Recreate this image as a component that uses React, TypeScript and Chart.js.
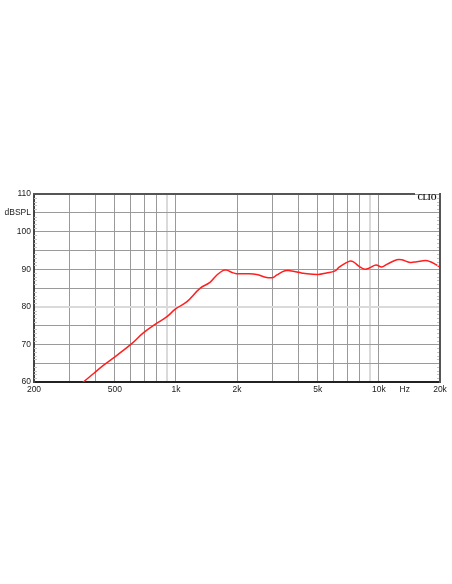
import React, { useEffect, useRef } from "react";
import { Chart, registerables } from "chart.js";

Chart.register(...registerables);

const freqs = [340, 350, 392, 439, 501, 606, 691, 803, 900, 1000, 1130, 1314, 1472, 1588, 1712, 1780, 1900, 1986, 2230, 2500, 2800, 3010, 3130, 3440, 3648, 4090, 4243, 5027, 5520, 6050, 6400, 7180, 7460, 8060, 8530, 9040, 9680, 10320, 10930, 12250, 12970, 14250, 15380, 16930, 17920, 19000, 20000];
const spl = [59.6, 60, 62.2, 64.4, 66.7, 70.2, 73.05, 75.6, 77.3, 79.5, 81.3, 84.9, 86.5, 88.4, 89.7, 89.75, 89.1, 88.8, 88.8, 88.6, 87.8, 87.8, 88.4, 89.6, 89.6, 89.1, 88.9, 88.6, 89.0, 89.5, 90.6, 92.15, 92.0, 90.6, 90.0, 90.4, 91.1, 90.6, 91.3, 92.5, 92.5, 91.8, 92.0, 92.3, 92.0, 91.3, 90.55];

const xTickValues = [200, 300, 400, 500, 600, 700, 800, 900, 1000, 2000, 3000, 4000, 5000, 6000, 7000, 8000, 9000, 10000, 13400, 20000];
const xTickLabels: Record<number, string> = { 200: "200", 500: "500", 1000: "1k", 2000: "2k", 5000: "5k", 10000: "10k", 13400: "Hz", 20000: "20k" };
const yTickValues = [60, 65, 70, 75, 80, 85, 90, 95, 100, 105, 110];
const yTickLabels: Record<number, string> = { 60: "60", 70: "70", 80: "80", 90: "90", 100: "100", 105: "dBSPL", 110: "110" };
const lightX = [900, 9000];
const lightY = [80];

const framePlugin = {
  id: "frame",
  afterDraw(chart: any) {
    const { ctx, chartArea } = chart;
    const { left, right, top, bottom } = chartArea;
    const ys = chart.scales.y;
    ctx.save();
    ctx.strokeStyle = "#c4c4c4";
    ctx.lineWidth = 1;
    for (let v = 61; v < 110; v++) {
      if (v % 5 === 0) continue;
      const py = Math.round(ys.getPixelForValue(v)) + 0.5;
      ctx.beginPath();
      ctx.moveTo(left, py);
      ctx.lineTo(left + 3, py);
      ctx.moveTo(right - 3, py);
      ctx.lineTo(right, py);
      ctx.stroke();
    }
    ctx.strokeStyle = "#555";
    ctx.lineWidth = 2;
    ctx.beginPath();
    ctx.moveTo(left - 1, top);
    ctx.lineTo(415, top);
    ctx.stroke();
    ctx.beginPath();
    ctx.moveTo(right, top - 1);
    ctx.lineTo(right, bottom + 1);
    ctx.stroke();
    ctx.fillStyle = "#111";
    ctx.font = "bold 7.5px 'Liberation Serif', serif";
    ctx.textAlign = "center";
    ctx.textBaseline = "middle";
    ctx.fillText("CLIO", 427, 198);
    ctx.restore();
  },
};

export default function App() {
  const ref = useRef<HTMLCanvasElement>(null);
  useEffect(() => {
    document.body.style.margin = "0";
    const chart = new Chart(ref.current!, {
      type: "line",
      data: {
        datasets: [
          {
            data: freqs.map((f, i) => ({ x: f, y: spl[i] })),
            borderColor: "#ff1f1f",
            borderWidth: 1.5,
            pointRadius: 0,
            tension: 0.4,
            fill: false,
          },
        ],
      },
      options: {
        animation: false,
        responsive: false,
        maintainAspectRatio: false,
        layout: { padding: { top: 194, right: 12, bottom: 182, left: 0 } },
        plugins: { legend: { display: false }, tooltip: { enabled: false } },
        scales: {
          x: {
            type: "logarithmic",
            min: 200,
            max: 20000,
            afterBuildTicks: (s: any) => {
              s.ticks = xTickValues.map((v) => ({ value: v }));
            },
            afterFit: (s: any) => {
              s.height = 20;
            },
            ticks: {
              autoSkip: false,
              maxRotation: 0,
              padding: 3,
              color: "#1a1a1a",
              font: { family: "'Liberation Sans', Arial, sans-serif", size: 8.5 },
              callback: (v: any) => xTickLabels[v as number] ?? "",
            },
            grid: {
              drawTicks: false,
              color: (c: any) => {
                const v = c.tick?.value;
                if (v === 13400) return "rgba(0,0,0,0)";
                if (lightX.includes(v)) return "#dadada";
                return "#9a9a9a";
              },
              lineWidth: (c: any) => (lightX.includes(c.tick?.value) ? 2 : 1),
            },
            border: { display: true, color: "#222", width: 2 },
          },
          y: {
            type: "linear",
            min: 60,
            max: 110,
            afterBuildTicks: (s: any) => {
              s.ticks = yTickValues.map((v) => ({ value: v }));
            },
            afterFit: (s: any) => {
              s.width = 34;
            },
            ticks: {
              autoSkip: false,
              padding: 3,
              color: "#1a1a1a",
              font: { family: "'Liberation Sans', Arial, sans-serif", size: 8.5 },
              callback: (v: any) => yTickLabels[v as number] ?? "",
            },
            grid: {
              drawTicks: false,
              color: (c: any) => (lightY.includes(c.tick?.value) ? "#dadada" : "#9a9a9a"),
              lineWidth: (c: any) => (lightY.includes(c.tick?.value) ? 2 : 1),
            },
            border: { display: true, color: "#444", width: 2 },
          },
        },
      },
      plugins: [framePlugin],
    });
    return () => chart.destroy();
  }, []);
  return (
    <div style={{ width: 452, height: 584 }}>
      <canvas ref={ref} width={452} height={584} style={{ display: "block" }} />
    </div>
  );
}
